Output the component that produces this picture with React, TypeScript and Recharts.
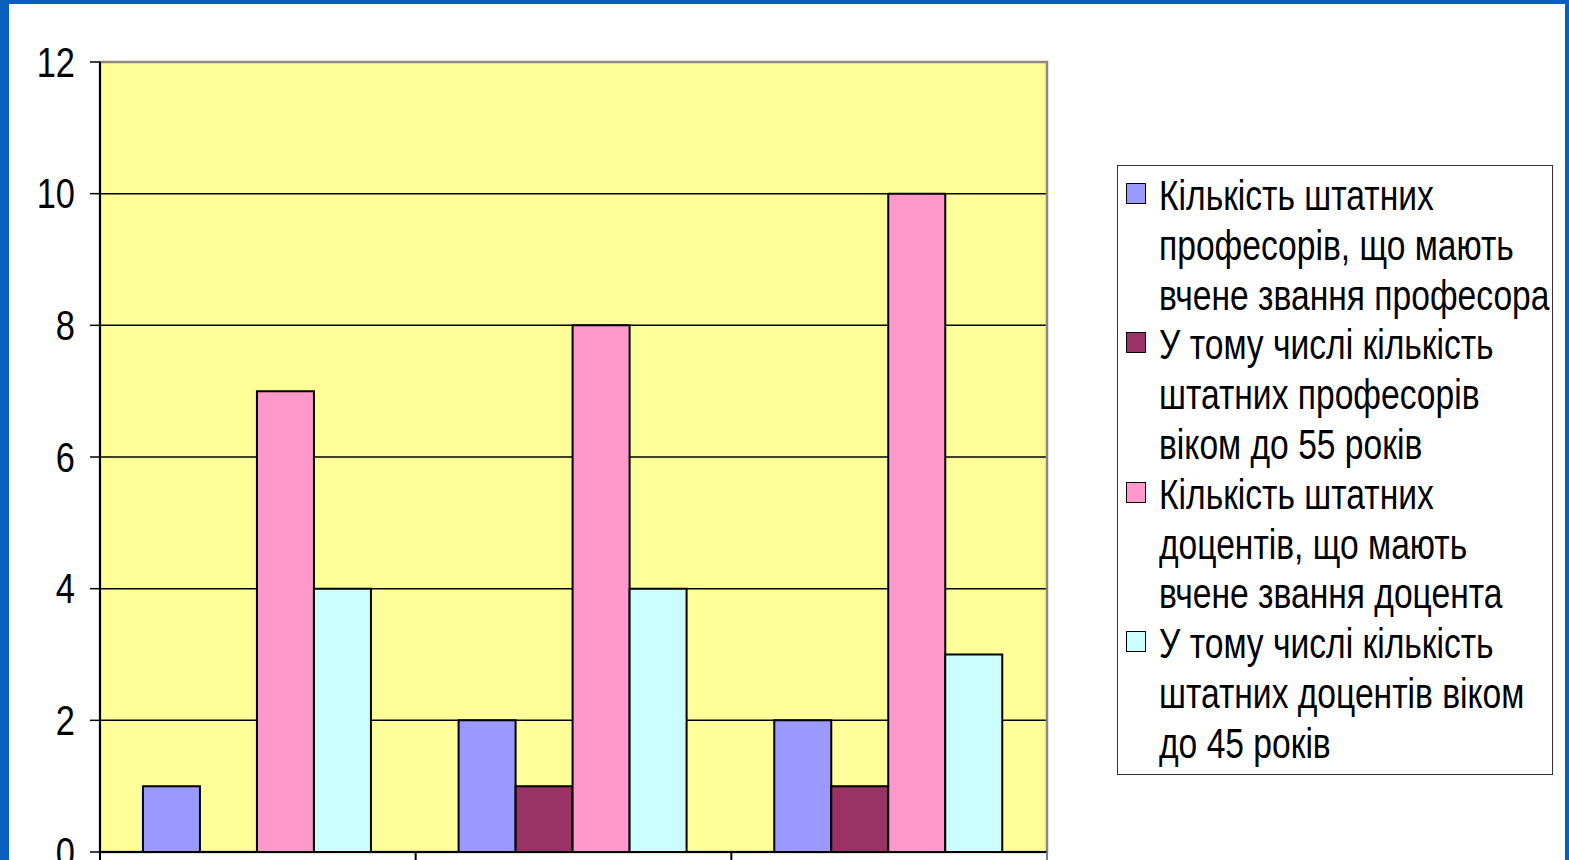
import React from 'react';
import { BarChart, Bar, XAxis, YAxis, CartesianGrid, Legend, ReferenceArea } from 'recharts';

const categories = ['1', '2', '3'];
const fullProfessors = [1, 2, 2];
const professorsUnder55 = [0, 1, 1];
const associateProfessors = [7, 8, 10];
const associateUnder45 = [4, 4, 3];
const yTicks = [0, 2, 4, 6, 8, 10, 12];

const seriesKeys = ['s1', 's2', 's3', 's4'];
const seriesColors = ['#9999FF', '#993366', '#FF99CC', '#CCFFFF'];
const seriesLabelLines = [
  ['Кількість штатних', 'професорів, що мають', 'вчене звання професора'],
  ['У тому числі кількість', 'штатних професорів', 'віком до 55 років'],
  ['Кількість штатних', 'доцентів, що мають', 'вчене звання доцента'],
  ['У тому числі кількість', 'штатних доцентів віком', 'до 45 років'],
];

const data = categories.map((c, i) => ({
  name: c,
  s1: fullProfessors[i],
  s2: professorsUnder55[i],
  s3: associateProfessors[i],
  s4: associateUnder45[i],
}));

const FONT = '"Liberation Sans Narrow", "Arial Narrow", "Liberation Sans", Arial, sans-serif';
const NARROW = 0.82;
const LEGEND_NARROW = 0.8;

const XTick = (props: any) => {
  const { x, y, payload, index, visibleTicksCount } = props;
  const half = payload && typeof payload.offset === 'number' && payload.offset > 0 ? payload.offset : 947 / 6;
  const left = x - half;
  const right = x + half;
  const isLast = index === (visibleTicksCount ?? 3) - 1;
  return (
    <g>
      <line x1={left} y1={y} x2={left} y2={y + 14} stroke="#000" strokeWidth={2} />
      {isLast && <line x1={right} y1={y} x2={right} y2={y + 14} stroke="#808080" strokeWidth={2} />}
    </g>
  );
};

const YTick = (props: any) => {
  const { x, y, payload } = props;
  return (
    <text
      transform={`translate(${x},${y}) scale(${NARROW},1)`}
      textAnchor="end"
      dominantBaseline="central"
      fill="#000"
      fontSize={42}
      fontFamily={FONT}
    >
      {payload.value}
    </text>
  );
};

const LegendContent = () => (
  <div
    style={{
      border: '1.5px solid #333',
      background: '#fff',
      padding: '5px 0',
      boxSizing: 'border-box',
      width: 436,
      fontFamily: FONT,
      fontSize: 42,
      lineHeight: '49.8px',
      color: '#000',
    }}
  >
    {seriesLabelLines.map((lines, i) => (
      <div key={i} style={{ display: 'flex', alignItems: 'flex-start' }}>
        <div style={{ width: 41, position: 'relative', height: 49.8, flexShrink: 0 }}>
          <div
            style={{
              position: 'absolute',
              left: 8,
              top: 12,
              width: 18,
              height: 19,
              background: seriesColors[i],
              border: '1.5px solid #000',
            }}
          />
        </div>
        <div style={{ whiteSpace: 'nowrap', transform: `scaleX(${LEGEND_NARROW})`, transformOrigin: 'left center' }}>
          {lines.map((l, j) => (
            <div key={j}>{l}</div>
          ))}
        </div>
      </div>
    ))}
  </div>
);

export default function App() {
  return (
    <div
      style={{
        position: 'fixed',
        left: 0,
        top: 0,
        width: 1569,
        height: 860,
        background: '#0A5EBE',
        overflow: 'hidden',
      }}
    >
      <div
        style={{
          position: 'absolute',
          left: 9,
          top: 4,
          width: 1556,
          height: 900,
          background: '#fff',
        }}
      />
      <div style={{ position: 'absolute', left: 0, top: 0 }}>
        <BarChart
          width={1569}
          height={900}
          data={data}
          margin={{ top: 62, right: 522, left: 0, bottom: 0 }}
          barCategoryGap="13.6%"
          barGap={0}
        >
          <CartesianGrid vertical={false} stroke="#000" strokeWidth={1.5} fill="#FFFF99" fillOpacity={1} />
          <ReferenceArea y1={0} y2={12} fill="none" stroke="#8a8a80" strokeWidth={2.5} ifOverflow="visible" />
          <XAxis
            dataKey="name"
            height={48}
            tickSize={0}
            tickMargin={0}
            tick={<XTick />}
            axisLine={{ stroke: '#000', strokeWidth: 2 }}
            interval={0}
          />
          <YAxis
            width={100}
            domain={[0, 12]}
            ticks={yTicks}
            interval={0}
            tickSize={10}
            tickMargin={15}
            axisLine={{ stroke: '#000', strokeWidth: 2 }}
            tickLine={{ stroke: '#000', strokeWidth: 1.5 }}
            tick={<YTick />}
          />
          {seriesKeys.map((k, i) => (
            <Bar key={k} dataKey={k} fill={seriesColors[i]} stroke="#000" strokeWidth={2} isAnimationActive={false} />
          ))}
          <Legend
            layout="vertical"
            align="center"
            verticalAlign="middle"
            content={<LegendContent />}
            wrapperStyle={{ left: 1117, top: 165, width: 436 }}
          />
        </BarChart>
      </div>
    </div>
  );
}
